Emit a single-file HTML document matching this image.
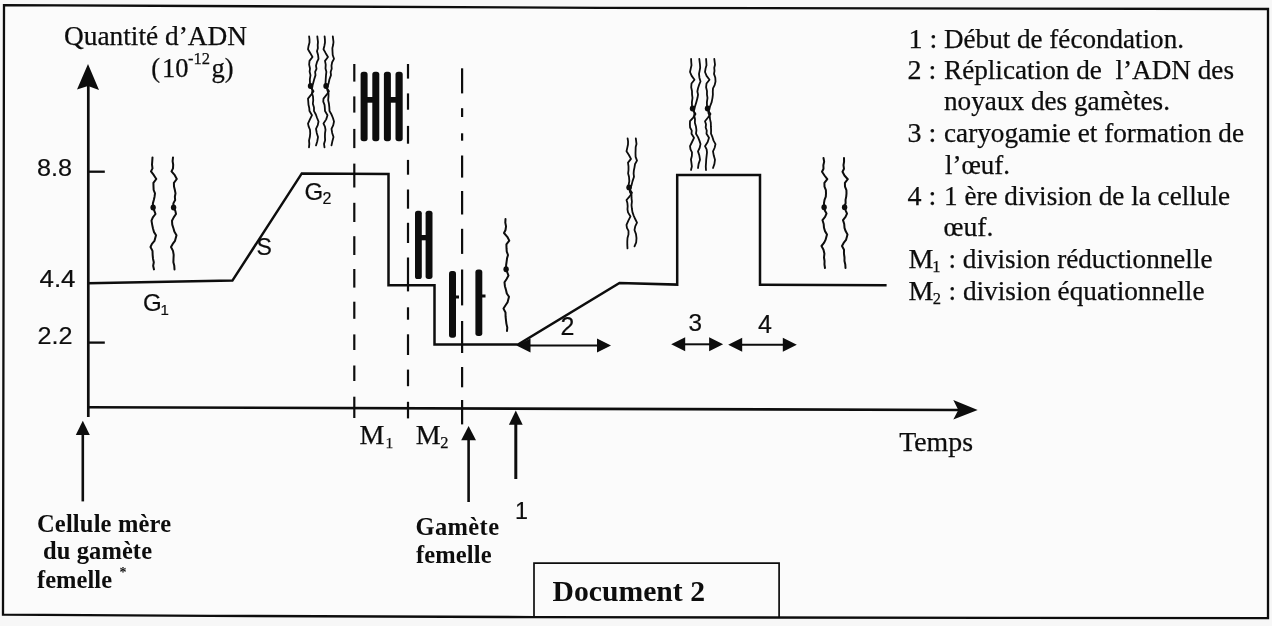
<!DOCTYPE html>
<html><head><meta charset="utf-8"><title>Document 2</title>
<style>
html,body{margin:0;padding:0;background:#f7f7f7;width:1272px;height:626px;overflow:hidden}
svg{display:block;filter:grayscale(1)}
text{font-family:"Liberation Serif",serif}
</style></head><body>
<svg width="1272" height="626" viewBox="0 0 1272 626"><rect width="1272" height="626" fill="#f7f7f7"/><path d="M4 5.1 L600 7.8 L1268 9 L1268 618.2 L1000 617.9 L534 617.1 L210 615.8 L3 614.6 Z" fill="#fbfbfb" stroke="#0d0d0d" stroke-width="2.3" stroke-linejoin="miter"/><path d="M534 617 L534 563.1 L779.1 563.1 L779.1 618" fill="none" stroke="#0d0d0d" stroke-width="1.7"/><line x1="88.3" y1="86" x2="88.3" y2="417" stroke="#0d0d0d" stroke-width="2.7"/><path d="M88 64 L99 90 L88 86 L77 89.5 Z" fill="#0d0d0d"/><line x1="87" y1="407.3" x2="960" y2="410" stroke="#0d0d0d" stroke-width="2.6"/><path d="M977.7 410 L953.3 419.5 L958.3 410 L953.3 400.1 Z" fill="#0d0d0d"/><line x1="88" y1="171.7" x2="104.8" y2="171.7" stroke="#0d0d0d" stroke-width="2.3"/><line x1="88" y1="342.6" x2="104.8" y2="342.6" stroke="#0d0d0d" stroke-width="2.3"/><polyline points="88,283.2 232.4,280.6 301.8,173.4 388.5,174 388.5,285.3 434.5,285.3 434.5,344.4 518,344.6 619.5,283 677.2,284.6 677.2,175 760,175 760,284.8 886.6,285.3" fill="none" stroke="#0d0d0d" stroke-width="2.5" stroke-linejoin="miter"/><line x1="354.3" y1="64" x2="354.3" y2="81.6" stroke="#0d0d0d" stroke-width="2.2"/><line x1="354.3" y1="96.4" x2="354.3" y2="112.6" stroke="#0d0d0d" stroke-width="2.2"/><line x1="354.3" y1="128.9" x2="354.3" y2="148.1" stroke="#0d0d0d" stroke-width="2.2"/><line x1="354.3" y1="163.6" x2="354.3" y2="187.5" stroke="#0d0d0d" stroke-width="2.2"/><line x1="354.3" y1="202.8" x2="354.3" y2="222" stroke="#0d0d0d" stroke-width="2.2"/><line x1="354.3" y1="236.2" x2="354.3" y2="255" stroke="#0d0d0d" stroke-width="2.2"/><line x1="354.3" y1="269" x2="354.3" y2="287.6" stroke="#0d0d0d" stroke-width="2.2"/><line x1="354.3" y1="301.7" x2="354.3" y2="318.8" stroke="#0d0d0d" stroke-width="2.2"/><line x1="354.3" y1="334.4" x2="354.3" y2="350" stroke="#0d0d0d" stroke-width="2.2"/><line x1="354.3" y1="365.5" x2="354.3" y2="381" stroke="#0d0d0d" stroke-width="2.2"/><line x1="354.3" y1="396.7" x2="354.3" y2="418" stroke="#0d0d0d" stroke-width="2.2"/><line x1="408" y1="64" x2="408" y2="78.6" stroke="#0d0d0d" stroke-width="2.2"/><line x1="408" y1="93.4" x2="408" y2="109.7" stroke="#0d0d0d" stroke-width="2.2"/><line x1="408" y1="125.9" x2="408" y2="143.7" stroke="#0d0d0d" stroke-width="2.2"/><line x1="408" y1="159.9" x2="408" y2="174.7" stroke="#0d0d0d" stroke-width="2.2"/><line x1="408" y1="189.5" x2="408" y2="208.7" stroke="#0d0d0d" stroke-width="2.2"/><line x1="408" y1="222.8" x2="408" y2="243" stroke="#0d0d0d" stroke-width="2.2"/><line x1="408" y1="257.5" x2="408" y2="291.4" stroke="#0d0d0d" stroke-width="2.2"/><line x1="408" y1="307.3" x2="408" y2="319.7" stroke="#0d0d0d" stroke-width="2.2"/><line x1="408" y1="334.3" x2="408" y2="355" stroke="#0d0d0d" stroke-width="2.2"/><line x1="408" y1="369.6" x2="408" y2="386.2" stroke="#0d0d0d" stroke-width="2.2"/><line x1="408" y1="401.8" x2="408" y2="418.4" stroke="#0d0d0d" stroke-width="2.2"/><line x1="462.1" y1="68.3" x2="462.1" y2="93.4" stroke="#0d0d0d" stroke-width="2.2"/><line x1="462.1" y1="108.2" x2="462.1" y2="117" stroke="#0d0d0d" stroke-width="2.2"/><line x1="462.1" y1="133.3" x2="462.1" y2="140.7" stroke="#0d0d0d" stroke-width="2.2"/><line x1="462.1" y1="155.5" x2="462.1" y2="177.6" stroke="#0d0d0d" stroke-width="2.2"/><line x1="462.1" y1="191" x2="462.1" y2="214.5" stroke="#0d0d0d" stroke-width="2.2"/><line x1="462.1" y1="228.8" x2="462.1" y2="253.9" stroke="#0d0d0d" stroke-width="2.2"/><line x1="462.1" y1="269.5" x2="462.1" y2="305.4" stroke="#0d0d0d" stroke-width="2.2"/><line x1="462.1" y1="321" x2="462.1" y2="353" stroke="#0d0d0d" stroke-width="2.2"/><line x1="462.1" y1="367" x2="462.1" y2="387.3" stroke="#0d0d0d" stroke-width="2.2"/><line x1="462.1" y1="400" x2="462.1" y2="424.4" stroke="#0d0d0d" stroke-width="2.2"/><rect x="360.6" y="71.8" width="7" height="69.4" rx="2.69" ry="2.69" fill="#0d0d0d"/><rect x="372.3" y="71.8" width="7" height="69.4" rx="2.69" ry="2.69" fill="#0d0d0d"/><rect x="383.9" y="71.8" width="7" height="69.4" rx="2.69" ry="2.69" fill="#0d0d0d"/><rect x="395.5" y="71.8" width="7.2" height="69.4" rx="2.77" ry="2.77" fill="#0d0d0d"/><rect x="366" y="97" width="8" height="5.7" fill="#0d0d0d"/><rect x="389.5" y="97" width="8" height="5.7" fill="#0d0d0d"/><rect x="415" y="210.7" width="6.8" height="68.3" rx="2.62" ry="2.62" fill="#0d0d0d"/><rect x="425.6" y="210.7" width="6.9" height="68.3" rx="2.65" ry="2.65" fill="#0d0d0d"/><rect x="420.5" y="235" width="6.5" height="5.3" fill="#0d0d0d"/><rect x="449" y="271" width="7" height="66.8" rx="2.69" ry="2.69" fill="#0d0d0d"/><rect x="455" y="295.5" width="4" height="3" fill="#0d0d0d"/><rect x="475.4" y="269.5" width="6.9" height="66.5" rx="2.65" ry="2.65" fill="#0d0d0d"/><rect x="481.5" y="294.5" width="4" height="3" fill="#0d0d0d"/><path d="M152.5 157.4 L152.25 161.07 L152.01 164.73 L152.5 168.4 L151 171.4 L153.86 175.2 L156.3 179 L153.4 182.8 L153.5 186.6 L153.65 190 L155 193.4 L154.55 196.72 L153.81 200.05 L152.88 203.38 L153 206.7 L153.2 207.8 L154.36 210.9 L155.5 214 L152.85 217.35 L151.5 220.7 L152.16 224.6 L153 228.5 L153.9 231.85 L156 235.2 L154.5 240.8 L151.93 243.9 L150.5 247 L152.5 250.9 L152.64 254.8 L153 258.7 L153.79 262.27 L153.14 265.83 L154 269.4" fill="none" stroke="#0d0d0d" stroke-width="2.0" stroke-linejoin="round" stroke-linecap="round"/><ellipse cx="153.1" cy="207.6" rx="2.7" ry="3" fill="#0d0d0d"/><path d="M173 157.4 L172.61 161.07 L173.18 164.73 L173 168.4 L171.5 171.4 L174.78 175.2 L176.8 179 L173.9 182.8 L174 186.6 L174.86 190 L175.5 193.4 L174.86 196.72 L175.17 200.05 L173.37 203.38 L173.5 206.7 L173.7 207.8 L175.35 210.9 L176 214 L173.71 217.35 L172 220.7 L172.25 224.6 L173.5 228.5 L174.46 231.85 L176.5 235.2 L175 240.8 L172.73 243.9 L171 247 L173 250.9 L173.69 254.8 L173.5 258.7 L173.39 262.27 L174.28 265.83 L174.5 269.4" fill="none" stroke="#0d0d0d" stroke-width="2.0" stroke-linejoin="round" stroke-linecap="round"/><ellipse cx="173.6" cy="207.6" rx="2.7" ry="3" fill="#0d0d0d"/><path d="M309.1 36.3 L309.49 39.4 L309.5 42.51 L308.57 45.91 L308 49.31 L310.32 53.17 L312.5 57.02 L309.5 60.82 L309.14 64.63 L310 68.43 L309.63 71.78 L310.5 75.13 L309.84 79.49 L310 83.84 L310.4 86.65 L313.5 91.25 L311 94.9 L308 98.56 L308.27 101.68 L308.49 104.81 L309.24 107.94 L309.5 111.07 L312 115.17 L309.93 119.37 L308 123.58 L308.72 126.68 L310 129.78 L310.21 133.31 L309.88 136.83 L309.04 140.35 L309.3 143.88 L309 147.4" fill="none" stroke="#0d0d0d" stroke-width="1.8" stroke-linejoin="round" stroke-linecap="round"/><path d="M317.3 36.3 L318 42.01 L317.7 45.07 L317.86 48.14 L317 51.21 L318.07 55.02 L318.5 58.82 L316.95 62.22 L316 65.63 L316.51 68.8 L315.13 71.97 L315.5 75.13 L314.14 79.49 L313 83.84 L311.5 87.05 L312.36 90.18 L312.01 93.32 L313 96.45 L313.23 100.11 L312.85 103.76 L313.99 107.41 L314 111.07 L315.87 114.54 L317.1 118.01 L318.5 121.48 L317.78 125.13 L316 128.78 L316.74 132.94 L318 137.09 L317.27 141.24 L316 145.4" fill="none" stroke="#0d0d0d" stroke-width="1.8" stroke-linejoin="round" stroke-linecap="round"/><ellipse cx="310.6" cy="85.94" rx="2.8" ry="3" fill="#0d0d0d"/><path d="M324.6 36.3 L324.93 39.4 L325 42.51 L324.36 45.91 L323.5 49.31 L325.69 53.17 L328 57.02 L325 60.82 L325.73 64.63 L325.5 68.43 L326.37 71.78 L326 75.13 L325.71 79.49 L325.5 83.84 L325.9 86.65 L329 91.25 L326.48 94.9 L323.5 98.56 L323.26 101.68 L324.53 104.81 L324.83 107.94 L325 111.07 L327.5 115.17 L326.19 119.37 L323.5 123.58 L324.95 126.68 L325.5 129.78 L325 133.31 L324.94 136.83 L325.14 140.35 L324.03 143.88 L324.5 147.4" fill="none" stroke="#0d0d0d" stroke-width="1.8" stroke-linejoin="round" stroke-linecap="round"/><path d="M332.8 36.3 L333.5 42.01 L333.11 45.07 L332.37 48.14 L332.5 51.21 L332.71 55.02 L334 58.82 L332.13 62.22 L331.5 65.63 L331.71 68.8 L330.65 71.97 L331 75.13 L329.4 79.49 L328.5 83.84 L327 87.05 L327.35 90.18 L328.52 93.32 L328.5 96.45 L328.16 100.11 L328.93 103.76 L329.32 107.41 L329.5 111.07 L331.54 114.54 L332.95 118.01 L334 121.48 L333.26 125.13 L331.5 128.78 L332.19 132.94 L333.5 137.09 L332.38 141.24 L331.5 145.4" fill="none" stroke="#0d0d0d" stroke-width="1.8" stroke-linejoin="round" stroke-linecap="round"/><ellipse cx="326.1" cy="85.94" rx="2.8" ry="3" fill="#0d0d0d"/><path d="M505.5 219 L505.3 222.67 L506.04 226.33 L505.5 230 L504 233 L507.29 236.8 L509.3 240.6 L506.4 244.4 L506.5 248.2 L506.76 251.6 L508 255 L507.05 258.32 L506.62 261.65 L506.13 264.98 L506 268.3 L506.2 269.4 L507.33 272.5 L508.5 275.6 L506.62 278.95 L504.5 282.3 L504.92 286.2 L506 290.1 L506.81 293.45 L509 296.8 L507.5 302.4 L505.39 305.5 L503.5 308.6 L505.5 312.5 L505.57 316.4 L506 320.3 L506.43 323.87 L507.3 327.43 L507 331" fill="none" stroke="#0d0d0d" stroke-width="2.0" stroke-linejoin="round" stroke-linecap="round"/><ellipse cx="506.1" cy="269.2" rx="2.7" ry="3" fill="#0d0d0d"/><path d="M627.6 138.3 L628.07 141.37 L628 144.45 L627.27 147.82 L626.5 151.19 L628.91 155.01 L631 158.83 L628 162.6 L628.5 166.37 L628.5 170.14 L628.13 173.46 L629 176.79 L629.31 181.1 L628.5 185.41 L628.9 188.19 L632 192.75 L629.64 196.38 L626.5 200 L627.4 203.1 L627.67 206.19 L627.47 209.29 L628 212.39 L630.5 216.46 L628.36 220.63 L626.5 224.79 L626.94 227.87 L628.5 230.94 L628.49 234.43 L627.49 237.93 L627.29 241.42 L627.29 244.91 L627.5 248.4" fill="none" stroke="#0d0d0d" stroke-width="1.8" stroke-linejoin="round" stroke-linecap="round"/><path d="M635.8 138.3 L636.5 143.95 L635.69 147 L635.61 150.04 L635.5 153.08 L635.62 156.85 L637 160.62 L635.05 163.99 L634.5 167.36 L633.85 170.5 L633.61 173.64 L634 176.79 L632.56 181.1 L631.5 185.41 L630 188.59 L629.84 191.7 L631.52 194.8 L631.5 197.91 L631.91 201.53 L631.51 205.15 L631.9 208.77 L632.5 212.39 L633.79 215.83 L635.31 219.27 L637 222.71 L635.22 226.33 L634.5 229.95 L635.99 234.07 L636.5 238.18 L636.19 242.3 L634.5 246.42" fill="none" stroke="#0d0d0d" stroke-width="1.8" stroke-linejoin="round" stroke-linecap="round"/><ellipse cx="629.1" cy="187.5" rx="2.8" ry="3" fill="#0d0d0d"/><path d="M691.1 59 L691.25 62.1 L691.5 65.2 L690.73 68.6 L690 72 L691.67 75.85 L694.5 79.7 L691.5 83.5 L691.19 87.3 L692 91.1 L692.03 94.45 L692.5 97.8 L691.92 102.15 L692 106.5 L692.4 109.3 L695.5 113.9 L693.21 117.55 L690 121.2 L689.9 124.33 L690.08 127.45 L691.76 130.57 L691.5 133.7 L694 137.8 L692.04 142 L690 146.2 L690.51 149.3 L692 152.4 L691.86 155.92 L690.94 159.44 L691.44 162.96 L691.87 166.48 L691 170" fill="none" stroke="#0d0d0d" stroke-width="1.8" stroke-linejoin="round" stroke-linecap="round"/><path d="M699.3 59 L700 64.7 L700.18 67.77 L699.61 70.83 L699 73.9 L699.42 77.7 L700.5 81.5 L699.06 84.9 L698 88.3 L697.37 91.47 L698.05 94.63 L697.5 97.8 L696.3 102.15 L695 106.5 L693.5 109.7 L694.39 112.83 L694.26 115.97 L695 119.1 L694.86 122.75 L695.94 126.4 L696.43 130.05 L696 133.7 L697.99 137.17 L699.43 140.63 L700.5 144.1 L699.7 147.75 L698 151.4 L699.34 155.55 L700 159.7 L698.62 163.85 L698 168" fill="none" stroke="#0d0d0d" stroke-width="1.8" stroke-linejoin="round" stroke-linecap="round"/><ellipse cx="692.6" cy="108.6" rx="2.8" ry="3" fill="#0d0d0d"/><path d="M706.1 59 L706.32 62.1 L706.5 65.2 L705.55 68.6 L705 72 L706.59 75.85 L709.5 79.7 L706.5 83.5 L706.09 87.3 L707 91.1 L706.94 94.45 L707.5 97.8 L706.91 102.15 L707 106.5 L707.4 109.3 L710.5 113.9 L708.02 117.55 L705 121.2 L706.01 124.33 L705.68 127.45 L706.74 130.57 L706.5 133.7 L709 137.8 L707.68 142 L705 146.2 L706.64 149.3 L707 152.4 L706.61 155.92 L706.21 159.44 L706.02 162.96 L705.78 166.48 L706 170" fill="none" stroke="#0d0d0d" stroke-width="1.8" stroke-linejoin="round" stroke-linecap="round"/><path d="M714.3 59 L715 64.7 L714.25 67.77 L714.51 70.83 L714 73.9 L715.31 77.7 L715.5 81.5 L714.73 84.9 L713 88.3 L712.8 91.47 L712.88 94.63 L712.5 97.8 L711.67 102.15 L710 106.5 L708.5 109.7 L708.42 112.83 L709.72 115.97 L710 119.1 L710.82 122.75 L710.9 126.4 L711.1 130.05 L711 133.7 L712.47 137.17 L713.55 140.63 L715.5 144.1 L714.65 147.75 L713 151.4 L713.77 155.55 L715 159.7 L714.42 163.85 L713 168" fill="none" stroke="#0d0d0d" stroke-width="1.8" stroke-linejoin="round" stroke-linecap="round"/><ellipse cx="707.6" cy="108.6" rx="2.8" ry="3" fill="#0d0d0d"/><path d="M823.5 158 L824.16 161.6 L823.35 165.2 L823.5 168.8 L822 171.75 L824.51 175.48 L827.3 179.21 L824.4 182.95 L824.5 186.68 L825.88 190.02 L826 193.36 L825.81 196.62 L824.54 199.89 L823.98 203.15 L824 206.42 L824.2 207.5 L824.86 210.54 L826.5 213.59 L825.07 216.88 L822.5 220.17 L823.68 224 L824 227.83 L825 231.12 L827 234.41 L825.5 239.91 L823.96 242.96 L821.5 246 L823.5 249.83 L824.42 253.66 L824 257.49 L824.55 260.99 L824.46 264.5 L825 268" fill="none" stroke="#0d0d0d" stroke-width="2.0" stroke-linejoin="round" stroke-linecap="round"/><ellipse cx="824.1" cy="207.3" rx="2.7" ry="3" fill="#0d0d0d"/><path d="M844 158 L844.07 161.6 L843.48 165.2 L844 168.8 L842.5 171.75 L844.47 175.48 L847.8 179.21 L844.9 182.95 L845 186.68 L846.41 190.02 L846.5 193.36 L846.21 196.62 L845.54 199.89 L845.61 203.15 L844.5 206.42 L844.7 207.5 L845.76 210.54 L847 213.59 L845.52 216.88 L843 220.17 L844.21 224 L844.5 227.83 L845.6 231.12 L847.5 234.41 L846 239.91 L843.65 242.96 L842 246 L844 249.83 L843.96 253.66 L844.5 257.49 L844.47 260.99 L845.29 264.5 L845.5 268" fill="none" stroke="#0d0d0d" stroke-width="2.0" stroke-linejoin="round" stroke-linecap="round"/><ellipse cx="844.6" cy="207.3" rx="2.7" ry="3" fill="#0d0d0d"/><line x1="82.8" y1="434" x2="82.8" y2="501.4" stroke="#0d0d0d" stroke-width="2.6"/><path d="M82.8 420.7 L89.8 435 L75.8 435 Z" fill="#0d0d0d"/><line x1="468.6" y1="439.3" x2="468.6" y2="502" stroke="#0d0d0d" stroke-width="2.6"/><path d="M468.6 426 L476 440.3 L461.2 440.3 Z" fill="#0d0d0d"/><line x1="515.8" y1="423.8" x2="515.8" y2="479" stroke="#0d0d0d" stroke-width="3.0"/><path d="M515.8 410.4 L522.7 424.8 L508.9 424.8 Z" fill="#0d0d0d"/><line x1="529.5" y1="345.5" x2="598" y2="345.5" stroke="#0d0d0d" stroke-width="2.0"/><path d="M516.5 345.5 L530.5 338.5 L530.5 352.5 Z" fill="#0d0d0d"/><path d="M611 345.5 L597 338.5 L597 352.5 Z" fill="#0d0d0d"/><line x1="684.2" y1="344.3" x2="710.1" y2="344.3" stroke="#0d0d0d" stroke-width="2.0"/><path d="M671.2 344.3 L685.2 337.3 L685.2 351.3 Z" fill="#0d0d0d"/><path d="M723.1 344.3 L709.1 337.3 L709.1 351.3 Z" fill="#0d0d0d"/><line x1="741.2" y1="344.8" x2="783.8" y2="344.8" stroke="#0d0d0d" stroke-width="2.0"/><path d="M728.2 344.8 L742.2 337.8 L742.2 351.8 Z" fill="#0d0d0d"/><path d="M796.8 344.8 L782.8 337.8 L782.8 351.8 Z" fill="#0d0d0d"/><g fill="#0d0d0d"><text x="64" y="44.6" textLength="183" lengthAdjust="spacingAndGlyphs" style="font-family:'Liberation Serif',serif;font-size:27.5px;font-weight:400;stroke:#0d0d0d;stroke-width:0.25px">Quantité d’ADN</text><text x="151.2" y="76.5" style="font-family:'Liberation Serif',serif;font-size:26.5px;font-weight:400;stroke:#0d0d0d;stroke-width:0.25px">(</text><text x="162.1" y="76.5" style="font-family:'Liberation Serif',serif;font-size:26.5px;font-weight:400;stroke:#0d0d0d;stroke-width:0.25px">10</text><text x="188" y="63.8" style="font-family:'Liberation Serif',serif;font-size:16.5px;font-weight:400;stroke:#0d0d0d;stroke-width:0.25px">-12</text><text x="211.5" y="76.5" style="font-family:'Liberation Serif',serif;font-size:26.5px;font-weight:400;stroke:#0d0d0d;stroke-width:0.25px">g)</text><text x="37" y="175.6" textLength="35" lengthAdjust="spacingAndGlyphs" style="font-family:'Liberation Sans',sans-serif;font-size:24.4px;font-weight:400;stroke:#0d0d0d;stroke-width:0.2px">8.8</text><text x="39.5" y="286.6" textLength="36" lengthAdjust="spacingAndGlyphs" style="font-family:'Liberation Sans',sans-serif;font-size:24.4px;font-weight:400;stroke:#0d0d0d;stroke-width:0.2px">4.4</text><text x="37.5" y="344" textLength="35" lengthAdjust="spacingAndGlyphs" style="font-family:'Liberation Sans',sans-serif;font-size:24.4px;font-weight:400;stroke:#0d0d0d;stroke-width:0.2px">2.2</text><text x="143" y="311" style="font-family:'Liberation Sans',sans-serif;font-size:24px;font-weight:400;stroke:#0d0d0d;stroke-width:0.2px">G</text><text x="160.5" y="314.8" style="font-family:'Liberation Sans',sans-serif;font-size:15px;font-weight:400;stroke:#0d0d0d;stroke-width:0.2px">1</text><text x="256.5" y="255.4" style="font-family:'Liberation Sans',sans-serif;font-size:23px;font-weight:400;stroke:#0d0d0d;stroke-width:0.2px">S</text><text x="304.5" y="199.8" style="font-family:'Liberation Sans',sans-serif;font-size:24px;font-weight:400;stroke:#0d0d0d;stroke-width:0.2px">G</text><text x="322.5" y="204" style="font-family:'Liberation Sans',sans-serif;font-size:16px;font-weight:400;stroke:#0d0d0d;stroke-width:0.2px">2</text><text x="359.5" y="443.5" style="font-family:'Liberation Serif',serif;font-size:28px;font-weight:400;stroke:#0d0d0d;stroke-width:0.25px">M</text><text x="385.5" y="447.7" style="font-family:'Liberation Serif',serif;font-size:15.5px;font-weight:400;stroke:#0d0d0d;stroke-width:0.25px">1</text><text x="415.8" y="443.5" style="font-family:'Liberation Serif',serif;font-size:28px;font-weight:400;stroke:#0d0d0d;stroke-width:0.25px">M</text><text x="440.3" y="447.7" style="font-family:'Liberation Serif',serif;font-size:16.5px;font-weight:400;stroke:#0d0d0d;stroke-width:0.25px">2</text><text x="899.2" y="450.7" textLength="73.8" lengthAdjust="spacingAndGlyphs" style="font-family:'Liberation Serif',serif;font-size:27.3px;font-weight:400;stroke:#0d0d0d;stroke-width:0.25px">Temps</text><text x="515" y="519.2" style="font-family:'Liberation Sans',sans-serif;font-size:23.3px;font-weight:400;stroke:#0d0d0d;stroke-width:0.2px">1</text><text x="560.5" y="334.5" style="font-family:'Liberation Sans',sans-serif;font-size:25px;font-weight:400;stroke:#0d0d0d;stroke-width:0.2px">2</text><text x="688.5" y="331.2" style="font-family:'Liberation Sans',sans-serif;font-size:24.3px;font-weight:400;stroke:#0d0d0d;stroke-width:0.2px">3</text><text x="758" y="333.3" style="font-family:'Liberation Sans',sans-serif;font-size:25px;font-weight:400;stroke:#0d0d0d;stroke-width:0.2px">4</text><text x="37" y="531.6" textLength="134" lengthAdjust="spacing" style="font-family:'Liberation Serif',serif;font-size:24.5px;font-weight:700">Cellule mère</text><text x="43" y="558.9" textLength="109" lengthAdjust="spacing" style="font-family:'Liberation Serif',serif;font-size:24.5px;font-weight:700">du gamète</text><text x="37" y="587.7" textLength="75" lengthAdjust="spacing" style="font-family:'Liberation Serif',serif;font-size:24.5px;font-weight:700">femelle</text><text x="119.5" y="577" style="font-family:'Liberation Serif',serif;font-size:14px;font-weight:700">*</text><text x="415.5" y="534.5" textLength="83.5" lengthAdjust="spacing" style="font-family:'Liberation Serif',serif;font-size:24.5px;font-weight:700">Gamète</text><text x="416" y="563.2" textLength="75.5" lengthAdjust="spacing" style="font-family:'Liberation Serif',serif;font-size:24.5px;font-weight:700">femelle</text><text x="552.5" y="600.8" textLength="152.5" lengthAdjust="spacingAndGlyphs" style="font-family:'Liberation Serif',serif;font-size:30.4px;font-weight:700">Document 2</text><text x="908.5" y="47.8" style="font-family:'Liberation Serif',serif;font-size:28px;font-weight:400;stroke:#0d0d0d;stroke-width:0.25px">1 :</text><text x="944" y="47.8" textLength="240" lengthAdjust="spacingAndGlyphs" style="font-family:'Liberation Serif',serif;font-size:28px;font-weight:400;stroke:#0d0d0d;stroke-width:0.25px">Début de fécondation.</text><text x="907.5" y="78.9" style="font-family:'Liberation Serif',serif;font-size:28px;font-weight:400;stroke:#0d0d0d;stroke-width:0.25px">2 :</text><text x="944" y="78.9" textLength="290" lengthAdjust="spacingAndGlyphs" style="font-family:'Liberation Serif',serif;font-size:28px;font-weight:400;stroke:#0d0d0d;stroke-width:0.25px">Réplication de&#160; l’ADN des</text><text x="944" y="110.1" textLength="226" lengthAdjust="spacingAndGlyphs" style="font-family:'Liberation Serif',serif;font-size:28px;font-weight:400;stroke:#0d0d0d;stroke-width:0.25px">noyaux des gamètes.</text><text x="907.5" y="141.6" style="font-family:'Liberation Serif',serif;font-size:28px;font-weight:400;stroke:#0d0d0d;stroke-width:0.25px">3 :</text><text x="944" y="141.6" textLength="300" lengthAdjust="spacingAndGlyphs" style="font-family:'Liberation Serif',serif;font-size:28px;font-weight:400;stroke:#0d0d0d;stroke-width:0.25px">caryogamie et formation de</text><text x="945" y="174.1" textLength="65" lengthAdjust="spacingAndGlyphs" style="font-family:'Liberation Serif',serif;font-size:28px;font-weight:400;stroke:#0d0d0d;stroke-width:0.25px">l’œuf.</text><text x="907.5" y="205.3" style="font-family:'Liberation Serif',serif;font-size:28px;font-weight:400;stroke:#0d0d0d;stroke-width:0.25px">4 :</text><text x="944" y="205.3" textLength="286" lengthAdjust="spacingAndGlyphs" style="font-family:'Liberation Serif',serif;font-size:28px;font-weight:400;stroke:#0d0d0d;stroke-width:0.25px">1 ère division de la cellule</text><text x="943.5" y="236.2" textLength="50" lengthAdjust="spacingAndGlyphs" style="font-family:'Liberation Serif',serif;font-size:28px;font-weight:400;stroke:#0d0d0d;stroke-width:0.25px">œuf.</text><text x="908.5" y="267.9" style="font-family:'Liberation Serif',serif;font-size:28px;font-weight:400;stroke:#0d0d0d;stroke-width:0.25px">M</text><text x="932.3" y="271.5" style="font-family:'Liberation Serif',serif;font-size:16.5px;font-weight:400;stroke:#0d0d0d;stroke-width:0.25px">1</text><text x="948.5" y="267.9" textLength="264" lengthAdjust="spacingAndGlyphs" style="font-family:'Liberation Serif',serif;font-size:28px;font-weight:400;stroke:#0d0d0d;stroke-width:0.25px">: division réductionnelle</text><text x="908.5" y="299.6" style="font-family:'Liberation Serif',serif;font-size:28px;font-weight:400;stroke:#0d0d0d;stroke-width:0.25px">M</text><text x="932.8" y="304" style="font-family:'Liberation Serif',serif;font-size:16.5px;font-weight:400;stroke:#0d0d0d;stroke-width:0.25px">2</text><text x="948.5" y="299.6" textLength="256" lengthAdjust="spacingAndGlyphs" style="font-family:'Liberation Serif',serif;font-size:28px;font-weight:400;stroke:#0d0d0d;stroke-width:0.25px">: division équationnelle</text></g></svg>
</body></html>
